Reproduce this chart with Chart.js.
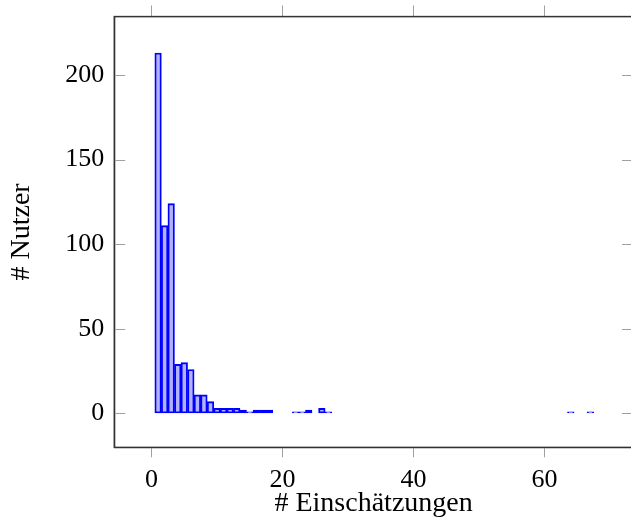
<!DOCTYPE html>
<html>
<head>
<meta charset="utf-8">
<script src="https://cdn.jsdelivr.net/npm/chart.js@4.4.0/dist/chart.umd.min.js"></script>
<style>
html,body{margin:0;padding:0;background:#fff;overflow:hidden;}
#wrap{position:relative;width:645px;height:521px;}
</style>
</head>
<body>
<div id="wrap"><canvas id="c" width="645" height="521"></canvas></div>
<script>
// Data
const counts = [1, 2, 3, 4, 5, 6, 7, 8, 9, 10, 11, 12, 13, 14, 15, 16, 17, 18, 22, 23, 24, 26, 27, 64, 67];
const users  = [213, 111, 124, 29, 30, 26, 11, 11, 7, 3, 3, 3, 3, 2, 1, 2, 2, 2, 1, 1, 2, 3, 1, 1, 1];
const xTicks = [0, 20, 40, 60];
const yTicks = [0, 50, 100, 150, 200];
const xTitle = '# Einschätzungen';
const yTitle = '# Nutzer';

const FONT = {family: "'Liberation Serif', 'DejaVu Serif', serif", size: 26};
const TFONT = {family: "'Liberation Serif', 'DejaVu Serif', serif", size: 28};
const TICKC = '#a0a0a0';
const AXC = '#333333';

const boxPlugin = {
  id: 'boxPlugin',
  afterDraw(chart) {
    const {ctx, chartArea: a, scales} = chart;
    const y = scales.y;
    ctx.save();
    ctx.strokeStyle = TICKC;
    ctx.lineWidth = 1;
    y.ticks.forEach(t => {
      const py = Math.round(y.getPixelForValue(t.value)) + 0.5;
      ctx.beginPath();
      ctx.moveTo(a.left, py); ctx.lineTo(a.left + 11, py);
      ctx.moveTo(a.right, py); ctx.lineTo(a.right - 11, py);
      ctx.stroke();
    });
    ctx.strokeStyle = AXC;
    ctx.lineWidth = 1.3;
    ctx.strokeRect(a.left, a.top, a.right - a.left, a.bottom - a.top);
    ctx.restore();
  }
};

function noPad(s) { s.paddingTop = 0; s.paddingBottom = 0; s.paddingLeft = 0; s.paddingRight = 0; }

new Chart(document.getElementById('c'), {
  type: 'bar',
  data: {
    datasets: [{
      data: counts.map((c, i) => ({x: c, y: users[i]})),
      backgroundColor: 'rgba(0,0,255,0.3)',
      borderColor: '#0000ff',
      borderWidth: 1.2,
      borderSkipped: false,
      barPercentage: 1,
      categoryPercentage: 1,
      xAxisID: 'x',
      yAxisID: 'y'
    }]
  },
  options: {
    responsive: false,
    animation: false,
    events: [],
    layout: {padding: {left: 0, top: 0, bottom: 0, right: 12}},
    plugins: {legend: {display: false}, tooltip: {enabled: false}},
    scales: {
      x: {
        type: 'linear', position: 'bottom', offset: false,
        min: -5.7, max: 73.5,
        afterFit(s) { s.height = 73.7; noPad(s); },
        afterBuildTicks(s) { s.ticks = xTicks.map(v => ({value: v})); },
        ticks: {font: FONT, color: '#000', padding: 7, maxRotation: 0},
        grid: {offset: false, drawOnChartArea: false, drawTicks: true, tickLength: 10, color: TICKC},
        border: {display: true, color: AXC, width: 1.3},
        title: {display: true, text: xTitle, font: TFONT, color: '#000', padding: {top: 0, bottom: 1}}
      },
      x2: {
        type: 'linear', position: 'top', offset: false,
        min: -5.7, max: 73.5,
        afterFit(s) { s.height = 16.5; noPad(s); },
        afterBuildTicks(s) { s.ticks = xTicks.map(v => ({value: v})); },
        ticks: {display: false},
        grid: {offset: false, drawOnChartArea: false, drawTicks: true, tickLength: 11, color: TICKC},
        border: {display: true, color: AXC, width: 1.3}
      },
      y: {
        type: 'linear', position: 'left',
        min: -20, max: 234.6,
        afterFit(s) { s.width = 114.2; noPad(s); },
        afterBuildTicks(s) { s.ticks = yTicks.map(v => ({value: v})); },
        ticks: {font: FONT, color: '#000', padding: 10},
        grid: {drawOnChartArea: false, drawTicks: false},
        border: {display: true, color: AXC, width: 1.3},
        title: {display: true, text: yTitle, font: TFONT, color: '#000', padding: {top: 5, bottom: 0}}
      }
    }
  },
  plugins: [boxPlugin]
});
</script>
</body>
</html>
